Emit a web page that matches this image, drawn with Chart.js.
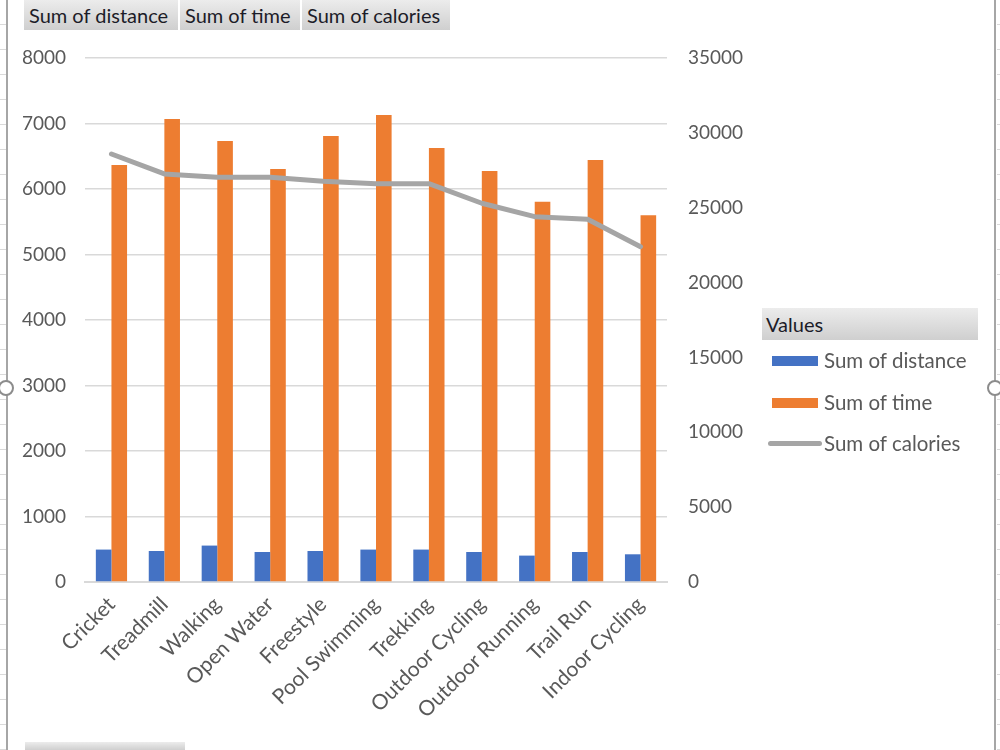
<!DOCTYPE html>
<html lang="en">
<head>
    <meta charset="UTF-8">
    <title>Sum of distance / time / calories</title>
    <script src="https://cdn.jsdelivr.net/npm/chart.js"></script>
    <style>
        html, body {
            margin: 0;
            padding: 0;
            background-color: #ffffff;
            font-family: 'Lato', 'Open Sans', sans-serif;
        }
        #wrap {
            position: relative;
            width: 1000px;
            height: 750px;
            overflow: hidden;
        }
        #chart {
            position: absolute;
            left: 0;
            top: 0;
        }
        /* excel sheet row marks left/right of the chart object */
        .rows {
            position: absolute;
            top: 0;
            width: 7px;
            height: 750px;
            background: repeating-linear-gradient(to bottom, transparent 0, transparent 24px, #dadada 24px, #dadada 25px);
        }
        .edge {
            position: absolute;
            top: 0;
            width: 2px;
            height: 750px;
            background-color: #a6a6a6;
        }
        .handle {
            position: absolute;
            top: 380px;
            width: 12px;
            height: 12px;
            border: 2px solid #8c8c8c;
            border-radius: 50%;
            background-color: #ffffff;
        }
        .field-btn {
            position: absolute;
            top: 0;
            height: 30px;
            line-height: 30px;
            font-size: 20px;
            color: #1c1c28;
            padding-left: 5px;
            box-sizing: border-box;
            white-space: nowrap;
            background: linear-gradient(to bottom, #ececec, #cfcfcf);
        }
        #legend {
            position: absolute;
            left: 762px;
            top: 308px;
            width: 216px;
        }
        #legend .title {
            height: 32px;
            line-height: 32px;
            font-size: 20px;
            color: #1c1c28;
            padding-left: 4px;
            background: linear-gradient(to bottom, #ececec, #cfcfcf);
        }
        #legend .item {
            position: relative;
            height: 41.5px;
            line-height: 41.5px;
            font-size: 20.5px;
            color: #595959;
            padding-left: 62px;
            white-space: nowrap;
        }
        #legend .item:first-of-type {
            margin-top: 3px;
        }
        #legend .swatch {
            position: absolute;
            left: 10px;
            top: 16px;
            width: 46px;
            height: 10px;
        }
        #legend .swatch.line {
            left: 6px;
            top: 18px;
            width: 54px;
            height: 5px;
            border-radius: 3px;
        }
    </style>
</head>
<body>
<div id="wrap">
    <div class="rows" style="left:0"></div>
    <div class="rows" style="left:997px"></div>
    <div class="edge" style="left:6px"></div>
    <div class="edge" style="left:994px"></div>

    <canvas id="chart" width="1000" height="750"></canvas>

    <div id="buttons"></div>
    <div id="legend"></div>
    <div class="field-btn" style="left:25px; top:742px; width:160px; height:8px;"></div>

    <div class="handle" style="left:-2px"></div>
    <div class="handle" style="left:987px"></div>
</div>

<script>
    // 値
    const categories = ["Cricket", "Treadmill", "Walking", "Open Water", "Freestyle", "Pool Swimming",
        "Trekking", "Outdoor Cycling", "Outdoor Running", "Trail Run", "Indoor Cycling"];
    const sumDistance = [495, 473, 556, 458, 473, 495, 495, 458, 403, 458, 423];
    const sumTime = [6366, 7069, 6733, 6305, 6809, 7130, 6626, 6275, 5806, 6443, 5598];
    const sumCalories = [28590, 27255, 27034, 27034, 26767, 26607, 26607, 25297, 24404, 24228, 22398];

    const leftTicks = [0, 1000, 2000, 3000, 4000, 5000, 6000, 7000, 8000];
    const rightTicks = [0, 5000, 10000, 15000, 20000, 25000, 30000, 35000];

    const seriesNames = ["Sum of distance", "Sum of time", "Sum of calories"];
    const seriesColors = ["#4472C4", "#ED7D31", "#A5A5A5"];

    const textColor = '#595959';
    const gridColor = '#D9D9D9';
    const tickFont = { family: "'Lato', 'Open Sans', sans-serif", size: 19 };
    const catFont = { family: "'Lato', 'Open Sans', sans-serif", size: 21 };

    // フィールドボタン（上部）
    const btnLayout = [{ left: 24, width: 154 }, { left: 180, width: 120 }, { left: 302, width: 148 }];
    const buttonsDiv = document.getElementById('buttons');
    seriesNames.forEach((name, i) => {
        const b = document.createElement('div');
        b.className = 'field-btn';
        b.style.left = btnLayout[i].left + 'px';
        b.style.width = btnLayout[i].width + 'px';
        b.textContent = name;
        buttonsDiv.appendChild(b);
    });

    // 凡例
    const legendDiv = document.getElementById('legend');
    legendDiv.innerHTML = `<div class="title">Values</div>` +
        seriesNames.map((name, i) => `
            <div class="item">
                <span class="swatch${i === 2 ? ' line' : ''}" style="background-color:${seriesColors[i]}"></span>${name}
            </div>`).join('');

    const ctx = document.getElementById('chart').getContext('2d');
    new Chart(ctx, {
        data: {
            labels: categories,
            datasets: [
                {
                    type: 'line',
                    label: seriesNames[2],
                    data: sumCalories,
                    yAxisID: 'y1',
                    borderColor: seriesColors[2],
                    backgroundColor: seriesColors[2],
                    borderWidth: 5,
                    pointRadius: 0,
                    tension: 0,
                    borderCapStyle: 'round',
                    borderJoinStyle: 'round',
                    order: 0
                },
                {
                    type: 'bar',
                    label: seriesNames[0],
                    data: sumDistance,
                    yAxisID: 'y',
                    backgroundColor: seriesColors[0],
                    categoryPercentage: 0.59,
                    barPercentage: 1.0,
                    order: 1
                },
                {
                    type: 'bar',
                    label: seriesNames[1],
                    data: sumTime,
                    yAxisID: 'y',
                    backgroundColor: seriesColors[1],
                    categoryPercentage: 0.59,
                    barPercentage: 1.0,
                    order: 1
                }
            ]
        },
        options: {
            responsive: false,
            animation: false,
            layout: { padding: { top: 58, left: 0, right: 0, bottom: 0 } },
            plugins: {
                legend: { display: false },
                tooltip: { enabled: false }
            },
            scales: {
                x: {
                    grid: { display: false, drawTicks: false },
                    border: { display: true, color: gridColor, width: 2 },
                    ticks: {
                        color: textColor,
                        font: catFont,
                        maxRotation: 45,
                        minRotation: 45,
                        autoSkip: false,
                        padding: 10
                    },
                    afterFit: (scale) => { scale.height = 168; }
                },
                y: {
                    position: 'left',
                    min: 0,
                    max: leftTicks[leftTicks.length - 1],
                    afterBuildTicks: (scale) => { scale.ticks = leftTicks.map(v => ({ value: v })); },
                    grid: { color: gridColor, lineWidth: 1.5, drawTicks: false },
                    border: { display: false },
                    ticks: { color: textColor, font: tickFont, padding: 19, callback: (v) => String(v) },
                    afterFit: (scale) => { scale.width = 85; }
                },
                y1: {
                    position: 'right',
                    min: 0,
                    max: rightTicks[rightTicks.length - 1],
                    afterBuildTicks: (scale) => { scale.ticks = rightTicks.map(v => ({ value: v })); },
                    grid: { display: false, drawTicks: false },
                    border: { display: false },
                    ticks: { color: textColor, font: tickFont, padding: 21, callback: (v) => String(v) },
                    afterFit: (scale) => { scale.width = 333; }
                }
            }
        }
    });
</script>
</body>
</html>
